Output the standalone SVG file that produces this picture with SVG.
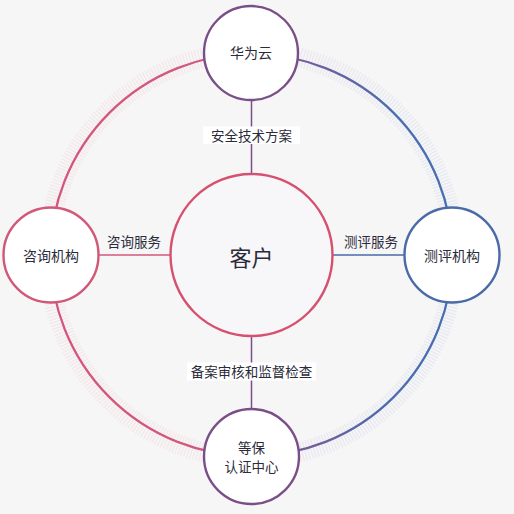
<svg xmlns="http://www.w3.org/2000/svg" width="514" height="514" viewBox="0 0 514 514">
  <defs>
    <linearGradient id="ringGrad" gradientUnits="userSpaceOnUse" x1="50" y1="0" x2="452" y2="0">
      <stop offset="0" stop-color="#d4557a"/>
      <stop offset="0.4" stop-color="#cf5a7c"/>
      <stop offset="0.6" stop-color="#7a5a98"/>
      <stop offset="0.85" stop-color="#4a6cb0"/>
      <stop offset="1" stop-color="#4a6cb0"/>
    </linearGradient>
    <style>
      .bg { fill: #f6f6f7; }
      .ring { fill: none; stroke: url(#ringGrad); stroke-width: 2.2; }
      .ticks { fill: none; stroke: url(#ringGrad); stroke-width: 20; stroke-dasharray: 1.4 1.6; opacity: 0.085; }
      .node { fill: #ffffff; stroke-width: 2.4; }
      .purple { stroke: #7a4f88; }
      .pink { stroke: #d05878; }
      .blue { stroke: #4a6aa8; }
      .center { fill: #f7f6f8; stroke: #d6506f; stroke-width: 2.4; }
      .conn { stroke-width: 1.5; fill: none; }
      text { font-family: "Noto Sans CJK SC", "Noto Sans", sans-serif; fill: #2b2b3a; text-anchor: middle; dominant-baseline: central; }
      .t14 { font-size: 14px; }
      .t13 { font-size: 13.5px; }
      .t135 { font-size: 13.5px; }
      .big { font-size: 22px; }
      .lblbg { fill: #ffffff; }
    </style>
  </defs>
  <rect class="bg" x="0" y="0" width="514" height="514"/>
  <g id="ring">
    <circle class="ticks" cx="251.5" cy="255" r="203"/>
    <circle class="ring" cx="251.5" cy="255" r="201"/>
  </g>
  <g id="connectors">
    <line class="conn purple" x1="251.5" y1="100" x2="251.5" y2="174"/>
    <line class="conn pink" x1="99" y1="255" x2="170" y2="255"/>
    <line class="conn blue" x1="333" y1="255" x2="404" y2="255"/>
    <line class="conn purple" x1="251.5" y1="336" x2="251.5" y2="409"/>
    <g id="label-top">
      <rect class="lblbg" x="203" y="126.5" width="97" height="17.5"/>
      <text class="t13" x="251.5" y="135">安全技术方案</text>
    </g>
    <g id="label-left">
      <text class="t13" x="134" y="241">咨询服务</text>
    </g>
    <g id="label-right">
      <text class="t13" x="371" y="241">测评服务</text>
    </g>
    <g id="label-bottom">
      <rect class="lblbg" x="187" y="362.5" width="129" height="18"/>
      <text class="t13" x="251.5" y="371">备案审核和监督检查</text>
    </g>
  </g>
  <g id="node-center">
    <circle class="center" cx="251.5" cy="255" r="81"/>
    <text class="big" x="251.5" y="256">客户</text>
  </g>
  <g id="node-huaweicloud">
    <circle class="node purple" cx="251" cy="53" r="47"/>
    <text class="t14" x="251" y="52">华为云</text>
  </g>
  <g id="node-consult">
    <circle class="node pink" cx="51" cy="255" r="47.5"/>
    <text class="t14" x="51" y="255">咨询机构</text>
  </g>
  <g id="node-eval">
    <circle class="node blue" cx="452" cy="255" r="47.5"/>
    <text class="t14" x="452" y="255">测评机构</text>
  </g>
  <g id="node-cert">
    <circle class="node purple" cx="251.5" cy="456.5" r="47.5"/>
    <text class="t135" x="251.5" y="447">等保</text>
    <text class="t135" x="251.5" y="466">认证中心</text>
  </g>
</svg>
